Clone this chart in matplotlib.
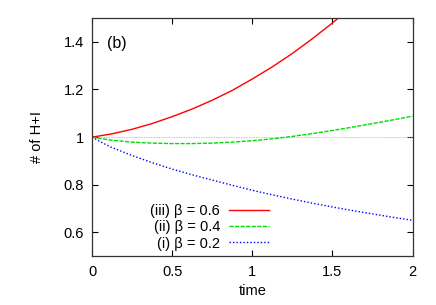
import matplotlib.pyplot as plt

# values
t_red = [0.0, 0.125, 0.25, 0.375, 0.5, 0.625, 0.75, 0.875, 1.0, 1.125, 1.25, 1.375, 1.5, 1.6]
n_red = [1.0, 1.014, 1.033, 1.057, 1.086, 1.118, 1.155, 1.196, 1.244, 1.295, 1.351, 1.413, 1.479, 1.535]

t_green = [0.0, 0.125, 0.25, 0.375, 0.5, 0.625, 0.75, 0.875, 1.0, 1.125, 1.25, 1.375, 1.5, 1.625, 1.75, 1.875, 2.0]
n_green = [1.0, 0.987, 0.979, 0.975, 0.973, 0.973, 0.975, 0.979, 0.985, 0.993, 1.003, 1.015, 1.028, 1.042, 1.057, 1.072, 1.088]

t_blue = [0.0, 0.0625, 0.125, 0.25, 0.375, 0.5, 0.625, 0.75, 0.875, 1.0, 1.125, 1.25, 1.375, 1.5, 1.625, 1.75, 1.875, 2.0]
n_blue = [1.0, 0.977, 0.956, 0.923, 0.893, 0.866, 0.842, 0.820, 0.798, 0.777, 0.758, 0.740, 0.723, 0.707, 0.692, 0.678, 0.664, 0.651]

labels = ["(iii) β = 0.6", "(ii) β = 0.4", "(i) β = 0.2"]

plt.rcParams["font.family"] = ["Liberation Sans", "DejaVu Sans"]
plt.rcParams["font.size"] = 10.5

fig = plt.figure(figsize=(4.36, 3.05), dpi=100)
ax = fig.add_axes([92 / 436, 1 - 256.3 / 305, 320.5 / 436, 238.3 / 305])

ax.axhline(1.0, color="#b0b0b0", lw=0.6, ls=(0, (1, 1)))
ax.plot(t_red, n_red, color="#ff0000", lw=1.0, label=labels[0])
ax.plot(t_green, n_green, color="#00dd00", lw=1.0, ls=(0, (3, 1)), label=labels[1])
ax.plot(t_blue, n_blue, color="#0000ff", lw=1.0, ls=(0, (1, 1.5)), label=labels[2])

ax.set_xlim(0, 2)
ax.set_ylim(0.5, 1.5)
ax.set_xticks([0, 0.5, 1, 1.5, 2])
ax.set_xticklabels(["0", "0.5", "1", "1.5", "2"])
ax.set_yticks([0.6, 0.8, 1.0, 1.2, 1.4])
ax.set_yticklabels(["0.6", "0.8", "1", "1.2", "1.4"])
ax.tick_params(direction="in", top=True, right=True, length=4, width=0.8, pad=6)
for s in ax.spines.values():
    s.set_color("#333333")
    s.set_linewidth(0.9)

ax.text(0.095, 1.375, "(b)", fontsize=11.5)
ax.set_xlabel("time", labelpad=4)
ax.set_ylabel("# of H+I", labelpad=14)

ax.legend(loc="lower left", bbox_to_anchor=(0.145, -0.025), frameon=False,
          markerfirst=False, handlelength=2.8, handletextpad=0.6,
          labelspacing=0.15, borderpad=0.3)

fig.savefig("out.png", dpi=100)
